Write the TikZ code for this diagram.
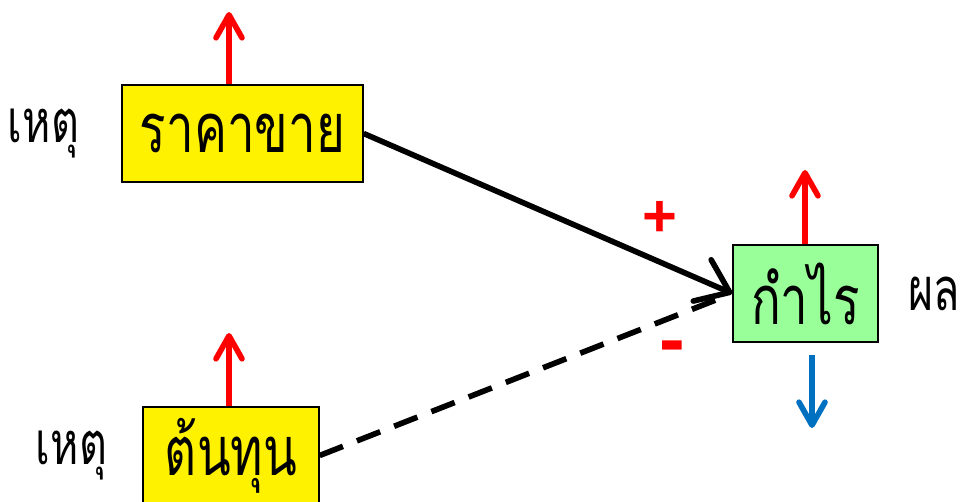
\documentclass[tikz,border=0pt]{standalone}
\usepackage{fontspec}
\newfontfamily\thaifont[Script=Thai, FakeStretch=0.72]{Loma}
\newfontfamily\signfont{Liberation Sans}
\usetikzlibrary{
    arrows.meta,
    calc,
    positioning
}

\definecolor{boxgreen}{RGB}{153,255,153}
\definecolor{downblue}{RGB}{0,112,192}

\begin{document}
\begin{tikzpicture}[x=0.02cm,y=-0.02cm,
    box/.style={draw=black, line width=0.8pt, inner sep=0pt,
        minimum height=1.94cm, font=\thaifont\fontsize{39}{40}\selectfont},
    tag/.style={inner sep=0pt, font=\thaifont\fontsize{34}{36}\selectfont},
    sign/.style={red, font=\signfont\bfseries\fontsize{34}{34}\selectfont},
    uparrow/.style={red, line width=3.2pt,
        -{Straight Barb[round, length=0.46cm, width=0.52cm]}},
    downarrow/.style={downblue, line width=3.2pt,
        -{Straight Barb[round, length=0.46cm, width=0.52cm]}},
    link/.style={line width=3.2pt,
        -{Straight Barb[round, length=0.6cm, width=0.9cm]}}]

\useasboundingbox (0,0) rectangle (961,502);

% Boxes
\node[box, fill=yellow, minimum width=4.82cm] (price) at (242.5,133.5) {ราคาขาย};
\node[box, fill=yellow, minimum width=3.52cm] (cost) at (231,455.5) {ต้นทุน};
\node[box, fill=boxgreen, minimum width=2.9cm] (profit) at (805.5,293.5) {กำไร};

% Side labels
\node[tag, left=0.84cm of price] (cause1) {เหตุ};
\node[tag, left=0.7cm of cost] (cause2) {เหตุ};
\node[tag, right=0.58cm of profit] (effect) {ผล};

% Up and down arrows
\coordinate (priceup) at (229,12);
\coordinate (costup) at (229,333);
\coordinate (profitup) at (805,170);
\coordinate (profitdown) at (812,428);
\draw[uparrow] (priceup |- price.north) -- (priceup);
\draw[uparrow] (costup |- cost.north) -- (costup);
\draw[uparrow] (profitup |- profit.north) -- (profitup);
\draw[downarrow] ($(profitdown |- profit.south)+(0,12)$) -- (profitdown);

% Links
\draw[link] (price.east) -- (profit.west);
\draw[line width=3.2pt, dash pattern=on 0.5cm off 0.3cm, shorten >=10pt]
    (cost.east) -- (profit.west);

% Signs
\node[sign] (plus) at (660,219) {+};
\node[sign, font=\signfont\bfseries\fontsize{44}{44}\selectfont] (minus) at (672,353) {-};

\end{tikzpicture}
\end{document}
